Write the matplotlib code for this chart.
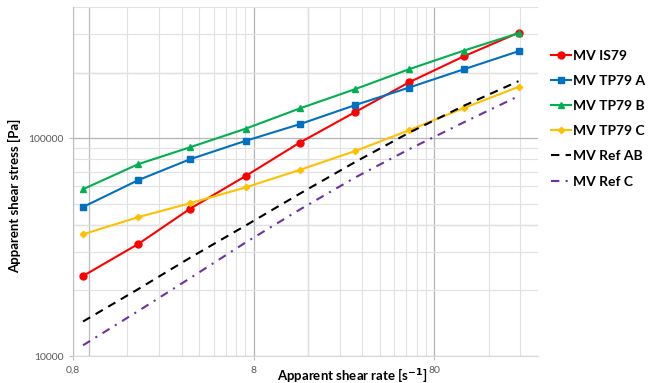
import matplotlib
matplotlib.use('Agg')
import matplotlib.pyplot as plt
from matplotlib.ticker import FixedLocator, FixedFormatter, NullFormatter

plt.rcParams['font.family'] = ['Lato', 'DejaVu Sans']

# apparent shear rate [1/s] and apparent shear stress [Pa]
shear_rate = [0.909, 1.84, 3.57, 7.22, 14.4, 29.1, 58.1, 117, 234]

mv_is79 = [23300, 32700, 47500, 67000, 95400, 131600, 180600, 237800, 304800]
mv_tp79_a = [48300, 64200, 80100, 97200, 115900, 141700, 170800, 207300, 250600]
mv_tp79_b = [58300, 76000, 90900, 110500, 136900, 167800, 207300, 252500, 303200]
mv_tp79_c = [36200, 43400, 50300, 59400, 71500, 87200, 108800, 137700, 171900]
mv_ref_ab = [14400, 20300, 28300, 39700, 55600, 77600, 106000, 141000, 182600]
mv_ref_c = [11200, 16100, 22800, 33200, 47000, 65900, 89000, 118400, 155900]

x_ticks = [0.8, 8, 80]
x_tick_labels = ['0,8', '8', '80']
y_ticks = [10000, 100000]
y_tick_labels = ['10000', '100000']

fig = plt.figure(figsize=(6.52, 3.83), dpi=100)
ax = fig.add_axes([73 / 652, 1 - 356 / 383, 465 / 652, 349 / 383])

ax.set_xscale('log')
ax.set_yscale('log')
ax.set_xlim(0.8, 300)
ax.set_ylim(10000, 400000)

# excel style log gridlines: minors at k * 0.8 * 10^n on x
x_minor = [0.8 * k * 10 ** n for n in range(3) for k in range(2, 10) if 0.8 * k * 10 ** n < 300]
y_minor = [k * 10 ** n for n in (4, 5) for k in range(2, 10) if k * 10 ** n <= 400000]
ax.xaxis.set_major_locator(FixedLocator(x_ticks))
ax.xaxis.set_major_formatter(FixedFormatter(x_tick_labels))
ax.xaxis.set_minor_locator(FixedLocator(x_minor))
ax.xaxis.set_minor_formatter(NullFormatter())
ax.yaxis.set_major_locator(FixedLocator(y_ticks))
ax.yaxis.set_major_formatter(FixedFormatter(y_tick_labels))
ax.yaxis.set_minor_locator(FixedLocator(y_minor))
ax.yaxis.set_minor_formatter(NullFormatter())

ax.grid(which='major', color='#B4B4B4', lw=0.9, zorder=0)
ax.grid(which='minor', color='#E1E1E1', lw=0.8, zorder=0)
for xv in (0.98, 16):
    ax.axvline(xv, color='#BDBDBD', lw=0.9, zorder=0)
for yv in (40000, 200000):
    ax.axhline(yv, color='#CDCDCD', lw=0.9, zorder=0)

for side in ('top', 'right'):
    ax.spines[side].set_visible(False)
ax.spines['left'].set_color('#BFBFBF')
ax.spines['bottom'].set_color('#D9D9D9')
ax.tick_params(which='major', length=3, color='#BFBFBF', labelsize=7.5,
               labelcolor='#595959', pad=4)
ax.tick_params(which='minor', length=0)

lw = 1.5
ax.plot(shear_rate, mv_is79, color='#FF0000', lw=lw, marker='o', ms=5, label='MV IS79', zorder=3)
ax.plot(shear_rate, mv_tp79_a, color='#0070C0', lw=lw, marker='s', ms=4.5, label='MV TP79 A', zorder=3)
ax.plot(shear_rate, mv_tp79_b, color='#00B050', lw=lw, marker='^', ms=5, label='MV TP79 B', zorder=3)
ax.plot(shear_rate, mv_tp79_c, color='#FFC000', lw=lw, marker='D', ms=3.2, label='MV TP79 C', zorder=3)
ax.plot(shear_rate, mv_ref_ab, color='black', lw=lw, dashes=(4, 3), label='MV Ref AB', zorder=3)
ax.plot(shear_rate, mv_ref_c, color='#7030A0', lw=lw, dashes=(4, 3, 1, 3), label='MV Ref C', zorder=3)

ax.set_xlabel('Apparent shear rate [s$^{\\mathbf{-1}}$]', fontsize=9.5, fontweight='bold')
ax.xaxis.set_label_coords(0.6, -0.028)
ax.set_ylabel('Apparent shear stress [Pa]', fontsize=9.5, fontweight='bold')
ax.yaxis.set_label_coords(-0.112, 0.458)

fig.legend(loc='upper left', bbox_to_anchor=(545 / 652, 1 - 44 / 383), frameon=False,
           prop={'weight': 'bold', 'size': 10}, handlelength=1.5, handletextpad=0.1,
           labelspacing=0.95, borderaxespad=0)

fig.savefig('out.png', dpi=100)
